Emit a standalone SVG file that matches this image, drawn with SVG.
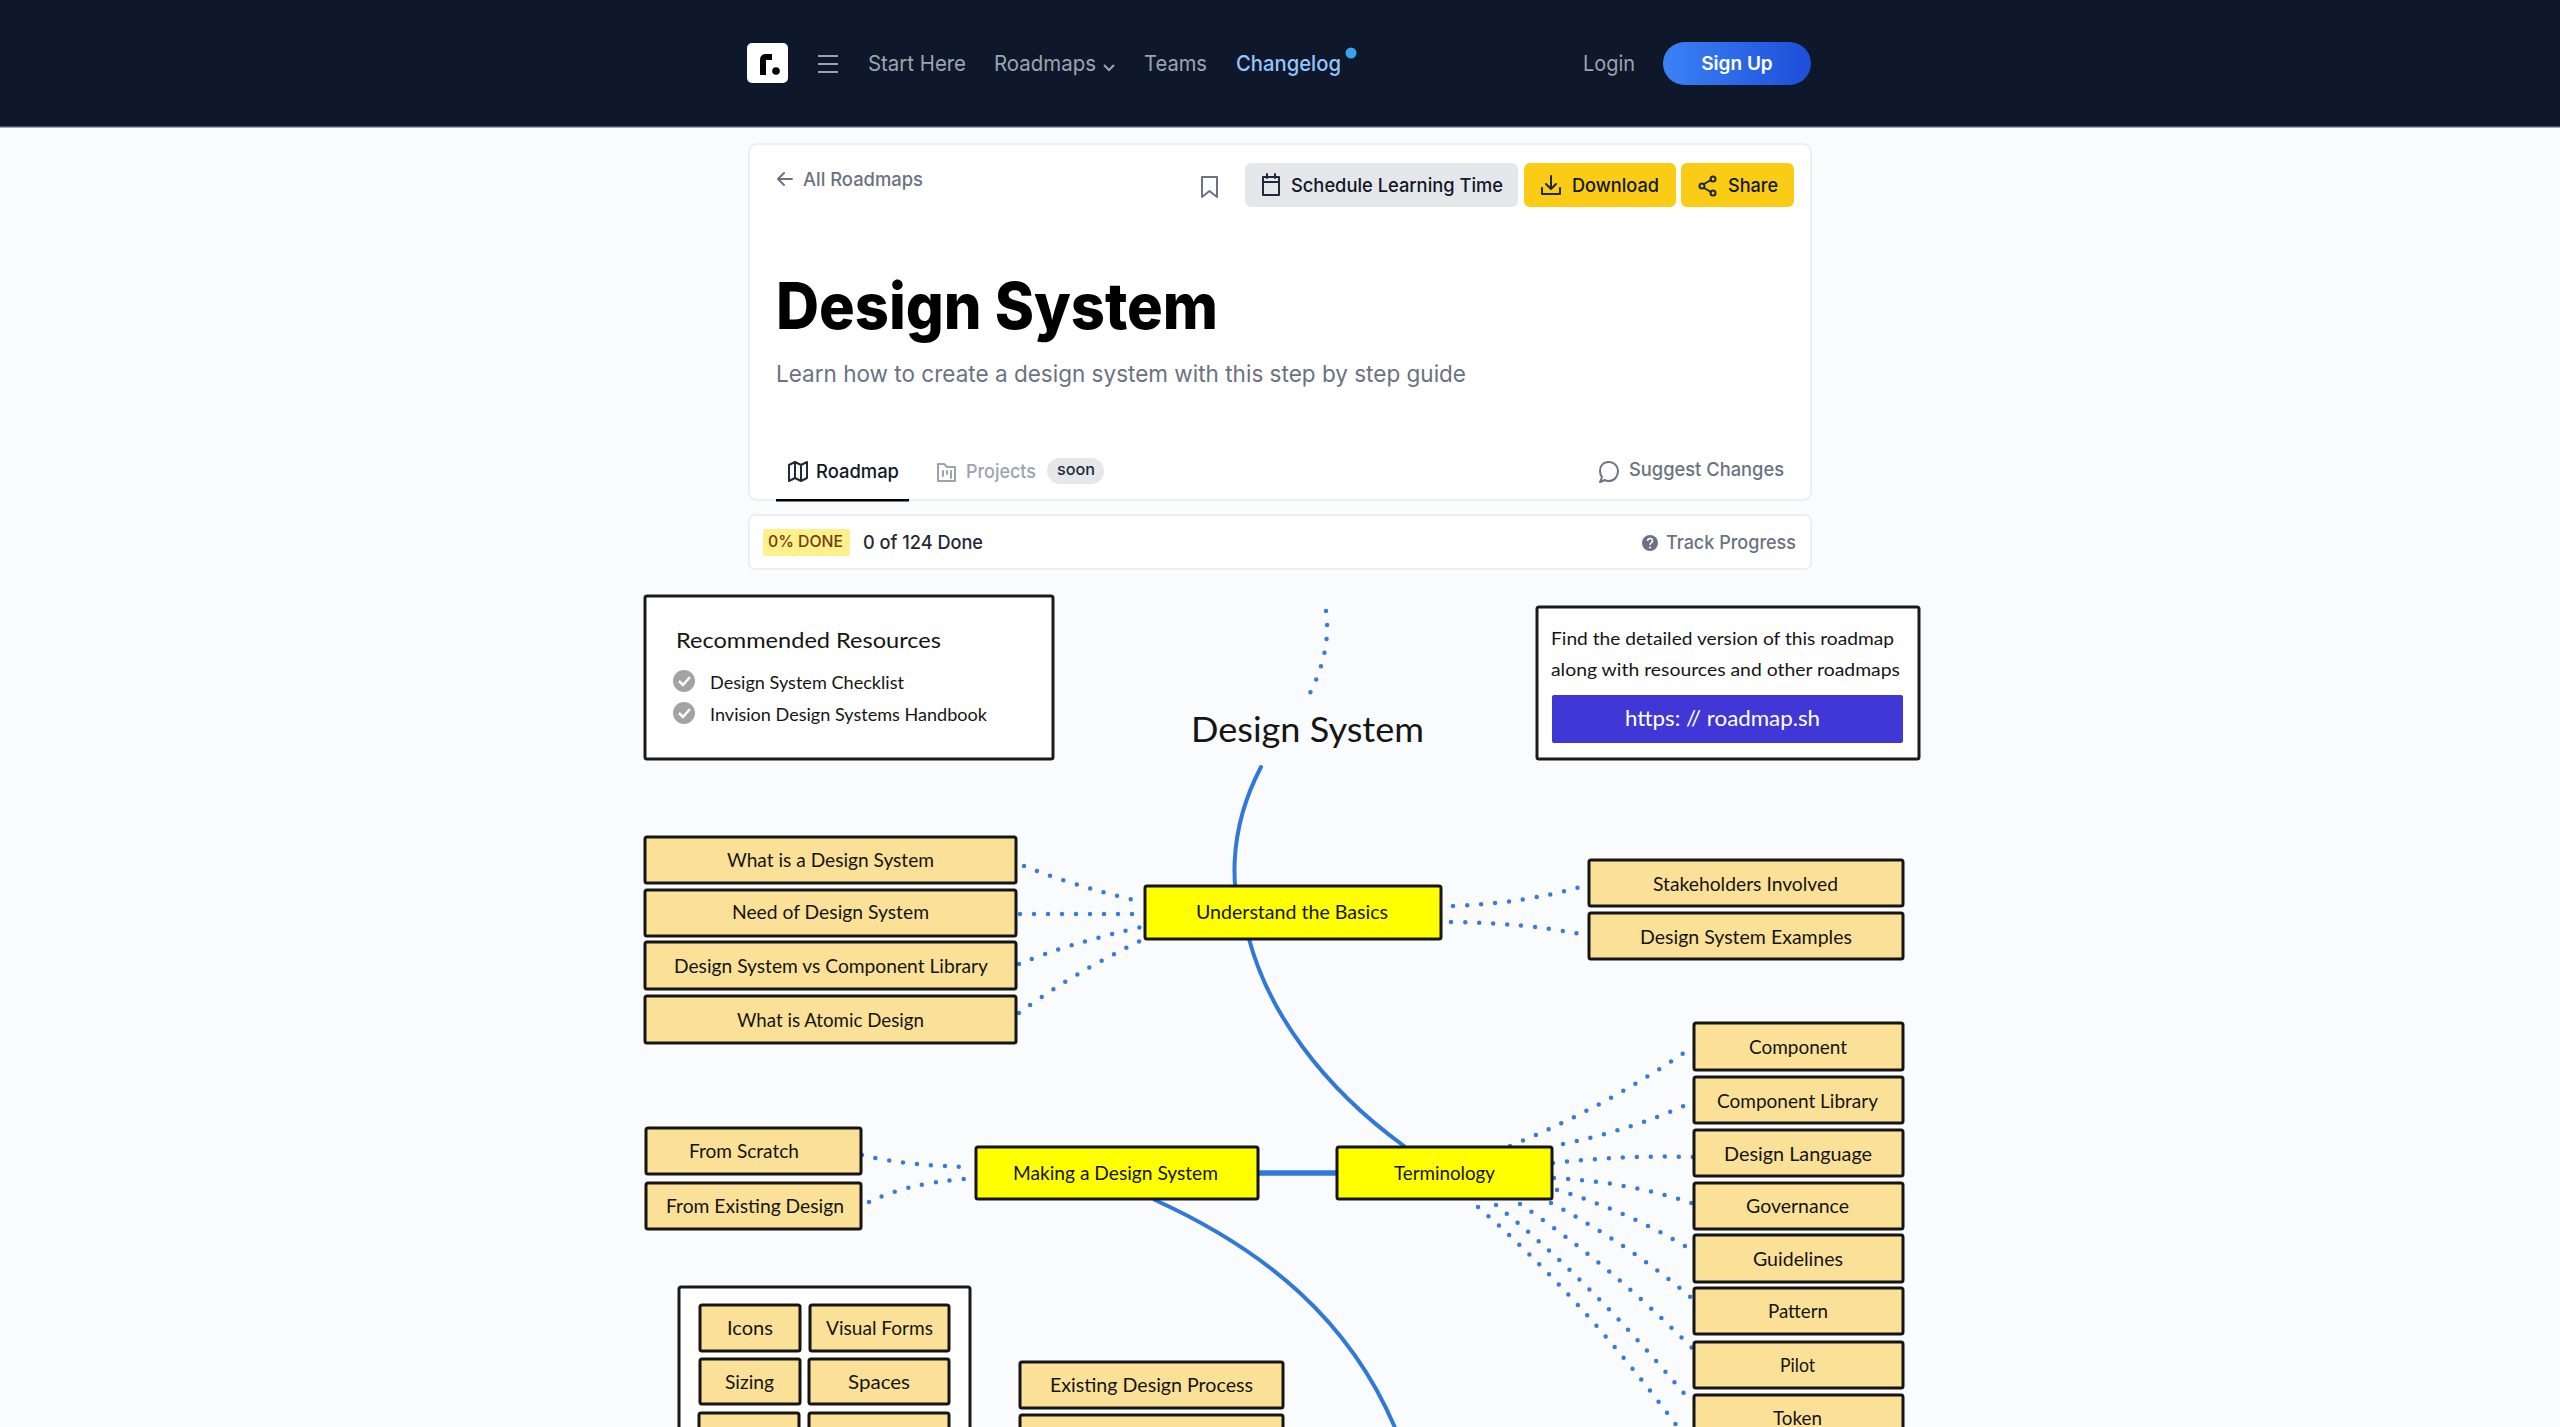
<svg xmlns="http://www.w3.org/2000/svg" width="2560" height="1427" viewBox="0 0 2560 1427">
<defs>
<linearGradient id="signup" x1="0" y1="0" x2="1" y2="0"><stop offset="0" stop-color="#3b82f6"/><stop offset="1" stop-color="#1d4ed8"/></linearGradient>
</defs>
<style>
text{font-family:"Inter","Liberation Sans",sans-serif}
.nav{font-size:22px;fill:#9ca3af}
.ui{font-size:19px;font-weight:500;fill:#111827}
.mut{font-size:19px;font-weight:500;fill:#6b7280}
.ic{fill:none;stroke:#1f2937;stroke-width:2;stroke-linecap:round;stroke-linejoin:round}
.icm{fill:none;stroke:#6b7280;stroke-width:2;stroke-linecap:round;stroke-linejoin:round}
.icl{fill:none;stroke:#9ca3af;stroke-width:2;stroke-linecap:round;stroke-linejoin:round}
.card{fill:#fff;stroke:#e8eaee;stroke-width:1.5}
.d{font-family:"Lato","Noto Sans",sans-serif;font-size:19px;fill:#151515;font-weight:400}
.n rect{fill:#fae197;stroke:#151515;stroke-width:3}
.m rect{fill:#ffff00;stroke:#151515;stroke-width:3}
.box{fill:#fff;stroke:#1a1a1a;stroke-width:3}
.solid{fill:none;stroke:#3079d8;stroke-width:4;stroke-linecap:round}
.dots{fill:none;stroke:#3a7bd5;stroke-width:4.5;stroke-linecap:round;stroke-dasharray:0 14}
</style>
<rect width="2560" height="1427" fill="#f9fbfd"/>
<g id="header">
<rect width="2560" height="127" fill="#0f172a"/>
<rect y="126" width="2560" height="1.500" fill="#475569"/>
<rect x="747" y="43" width="41" height="40" rx="5" fill="#fff"/>
<path d="M763 75V60Q763 57 766 57H772" fill="none" stroke="#000" stroke-width="6"/>
<circle cx="776" cy="71" r="3.800" fill="#000"/>
<path d="M818 56H838M818 64H838M818 72H838" stroke="#9ca3af" stroke-width="2.200" fill="none"/>
<text class="nav" x="868" y="71" textLength="98" lengthAdjust="spacingAndGlyphs">Start Here</text>
<text class="nav" x="994" y="71" textLength="102" lengthAdjust="spacingAndGlyphs">Roadmaps</text>
<path d="M1104 65L1109 70L1114 65" fill="none" stroke="#9ca3af" stroke-width="2"/>
<text class="nav" x="1144" y="71" textLength="63" lengthAdjust="spacingAndGlyphs">Teams</text>
<text class="nav" x="1236" y="71" textLength="105" lengthAdjust="spacingAndGlyphs" style="fill:#93c5fd;font-weight:500">Changelog</text>
<circle cx="1351" cy="53" r="5.500" fill="#38a3e8"/>
<text class="nav" x="1583" y="71" textLength="52" lengthAdjust="spacingAndGlyphs">Login</text>
<rect x="1663" y="42" width="148" height="43" rx="21.500" fill="url(#signup)"/>
<text x="1737" y="70" text-anchor="middle" font-size="19" font-weight="600" fill="#fff">Sign Up</text>
</g>
<g id="title-card">
<rect class="card" x="749" y="144" width="1062" height="356" rx="8"/>
<path class="icm" d="M792 179H778M784 173L778 179L784 185"/>
<text class="mut" x="803" y="186" textLength="120" lengthAdjust="spacingAndGlyphs">All Roadmaps</text>
<path class="icm" d="M1202 177H1217V197L1209.500 191L1202 197Z"/>
<rect x="1245" y="163" width="273" height="44" rx="6" fill="#e5e7eb"/>
<path class="ic" d="M1263 177H1279V195H1263ZM1263 182H1279M1267 174V178M1275 174V178"/>
<text class="ui" x="1291" y="192" textLength="212" lengthAdjust="spacingAndGlyphs">Schedule Learning Time</text>
<rect x="1524" y="163" width="152" height="44" rx="6" fill="#facc15"/>
<path class="ic" d="M1551 176V189M1546 184L1551 189L1556 184M1542 188V194H1560V188"/>
<text class="ui" x="1572" y="192" textLength="87" lengthAdjust="spacingAndGlyphs">Download</text>
<rect x="1681" y="163" width="113" height="44" rx="6" fill="#facc15"/>
<path class="ic" d="M1704 184L1711 180M1704 188L1711 192"/>
<circle class="ic" cx="1713" cy="179" r="2.500"/><circle class="ic" cx="1702" cy="186" r="2.500"/><circle class="ic" cx="1713" cy="193" r="2.500"/>
<text class="ui" x="1728" y="192" textLength="50" lengthAdjust="spacingAndGlyphs">Share</text>
<text x="776" y="329" font-size="64" font-weight="800" fill="#000" textLength="442" lengthAdjust="spacingAndGlyphs">Design System</text>
<text x="776" y="382" font-size="23.500" fill="#6b7280" textLength="690" lengthAdjust="spacingAndGlyphs">Learn how to create a design system with this step by step guide</text>
<path class="ic" d="M789 465L795 462L801 465L807 462V478L801 481L795 478L789 481ZM795 462V478M801 465V481"/>
<text class="ui" x="816" y="478" textLength="83" lengthAdjust="spacingAndGlyphs">Roadmap</text>
<rect x="776" y="499" width="133" height="2.500" fill="#000"/>
<path class="icl" d="M938 464H944L947 467H955V481H938ZM943 471V476M947 471V474M951 471V478"/>
<text class="ui" x="966" y="478" textLength="70" lengthAdjust="spacingAndGlyphs" style="fill:#9ca3af">Projects</text>
<rect x="1047" y="458" width="57" height="26" rx="13" fill="#e5e7eb"/>
<text x="1057" y="475" font-size="16" font-weight="500" fill="#1f2937" textLength="38" lengthAdjust="spacingAndGlyphs">soon</text>
<path class="icm" d="M1609 462C1603 462 1600 466 1600 471C1600 474 1601 476 1602 477L1600 482L1605 480C1606 481 1607 481 1609 481C1614 481 1618 477 1618 471C1618 466 1614 462 1609 462Z"/>
<text class="mut" x="1629" y="476" textLength="155" lengthAdjust="spacingAndGlyphs">Suggest Changes</text>
</g>
<g id="progress-card">
<rect class="card" x="749" y="515" width="1062" height="54" rx="6"/>
<rect x="763" y="529" width="87" height="27" rx="2" fill="#fef08a"/>
<text x="768" y="547" font-size="16" font-weight="500" fill="#713f12" textLength="75" lengthAdjust="spacingAndGlyphs">0% DONE</text>
<text x="863" y="549" font-size="19" font-weight="500" fill="#1f2937" textLength="120" lengthAdjust="spacingAndGlyphs">0 of 124 Done</text>
<circle cx="1650" cy="543" r="8" fill="#6b7280"/>
<path d="M1647.500 541C1648 537.500 1653 538 1652.500 541C1652 543 1650 543 1650 545" fill="none" stroke="#fff" stroke-width="1.500"/>
<circle cx="1650" cy="547.500" r="1" fill="#fff"/>
<text class="mut" x="1666" y="549" textLength="130" lengthAdjust="spacingAndGlyphs">Track Progress</text>
</g>
<g id="connectors">
<path class="solid" d="M1261 767C1228 830 1228 895 1249 939C1268 1010 1320 1085 1404 1146"/>
<path class="solid" d="M1258 1173H1337" style="stroke-width:5.500;stroke-linecap:butt"/>
<path class="solid" d="M1155 1200C1265 1250 1350 1320 1396 1430"/>
<path class="dots" d="M1326 611C1330 640 1323 668 1309 695"/>
<path class="dots" d="M1024 866Q1080 888 1143 902"/>
<path class="dots" d="M1020 914H1145"/>
<path class="dots" d="M1019 964Q1070 943 1142 927"/>
<path class="dots" d="M1019 1013Q1070 975 1142 940"/>
<path class="dots" d="M1453 906Q1525 903 1580 887"/>
<path class="dots" d="M1451 922Q1525 923 1580 934"/>
<path class="dots" d="M862 1155Q905 1166 973 1167"/>
<path class="dots" d="M869 1202Q905 1184 964 1179"/>
<path class="dots" d="M1510 1146Q1610 1105 1694 1046"/>
<path class="dots" d="M1563 1144Q1630 1130 1686 1105"/>
<path class="dots" d="M1553 1163Q1625 1155 1694 1157"/>
<path class="dots" d="M1554 1178Q1630 1182 1694 1204"/>
<path class="dots" d="M1557 1190Q1625 1210 1688 1248"/>
<path class="dots" d="M1551 1203Q1630 1245 1694 1300"/>
<path class="dots" d="M1520 1204Q1610 1265 1694 1350"/>
<path class="dots" d="M1496 1205Q1590 1280 1692 1403"/>
<path class="dots" d="M1478 1207Q1580 1295 1680 1430"/>
</g>
<g id="resources">
<rect class="box" x="645" y="596" width="408" height="163" rx="2"/>
<text class="d" x="676" y="648" style="font-size:22px" textLength="265" lengthAdjust="spacingAndGlyphs">Recommended Resources</text>
<circle cx="684" cy="681" r="11" fill="#a3a3a3"/><path d="M679 681L683 685L690 677" fill="none" stroke="#fff" stroke-width="2.500"/>
<text class="d" x="710" y="689" style="font-size:17px" textLength="194" lengthAdjust="spacingAndGlyphs">Design System Checklist</text>
<circle cx="684" cy="713" r="11" fill="#a3a3a3"/><path d="M679 713L683 717L690 709" fill="none" stroke="#fff" stroke-width="2.500"/>
<text class="d" x="710" y="721" style="font-size:17px" textLength="277" lengthAdjust="spacingAndGlyphs">Invision Design Systems Handbook</text>
</g>
<g id="detail-box">
<rect class="box" x="1537" y="607" width="382" height="152" rx="2"/>
<text class="d" x="1551" y="645" style="font-size:17.500px" textLength="343" lengthAdjust="spacingAndGlyphs">Find the detailed version of this roadmap</text>
<text class="d" x="1551" y="676" style="font-size:17.500px" textLength="349" lengthAdjust="spacingAndGlyphs">along with resources and other roadmaps</text>
<rect x="1552" y="695" width="351" height="48" rx="2" fill="#4136d6"/>
<text class="d" x="1625" y="726" style="font-size:22px;fill:#fff" textLength="195" lengthAdjust="spacingAndGlyphs">https: // roadmap.sh</text>
</g>
<text id="diagram-title" class="d" x="1191" y="742" style="font-size:35px" textLength="233" lengthAdjust="spacingAndGlyphs">Design System</text>
<g id="n-what-is" class="n"><rect x="645" y="837" width="371" height="46" rx="2"/><text class="d" x="727" y="867" textLength="207" lengthAdjust="spacingAndGlyphs">What is a Design System</text></g>
<g id="n-need" class="n"><rect x="645" y="890" width="371" height="46" rx="2"/><text class="d" x="732" y="919" textLength="197" lengthAdjust="spacingAndGlyphs">Need of Design System</text></g>
<g id="n-vs" class="n"><rect x="645" y="942" width="371" height="47" rx="2"/><text class="d" x="674" y="973" textLength="314" lengthAdjust="spacingAndGlyphs">Design System vs Component Library</text></g>
<g id="n-atomic" class="n"><rect x="645" y="996" width="371" height="47" rx="2"/><text class="d" x="737" y="1027" textLength="187" lengthAdjust="spacingAndGlyphs">What is Atomic Design</text></g>
<g id="m-basics" class="m"><rect x="1145" y="886" width="296" height="53" rx="2"/><text class="d" x="1196" y="919" textLength="192" lengthAdjust="spacingAndGlyphs">Understand the Basics</text></g>
<g id="n-stake" class="n"><rect x="1589" y="860" width="314" height="46" rx="2"/><text class="d" x="1653" y="891" textLength="185" lengthAdjust="spacingAndGlyphs">Stakeholders Involved</text></g>
<g id="n-examples" class="n"><rect x="1589" y="913" width="314" height="46" rx="2"/><text class="d" x="1640" y="944" textLength="212" lengthAdjust="spacingAndGlyphs">Design System Examples</text></g>
<g id="n-component" class="n"><rect x="1694" y="1023" width="209" height="47" rx="2"/><text class="d" x="1749" y="1054" textLength="98" lengthAdjust="spacingAndGlyphs">Component</text></g>
<g id="n-complib" class="n"><rect x="1694" y="1077" width="209" height="46" rx="2"/><text class="d" x="1717" y="1108" textLength="161" lengthAdjust="spacingAndGlyphs">Component Library</text></g>
<g id="n-language" class="n"><rect x="1694" y="1130" width="209" height="46" rx="2"/><text class="d" x="1724" y="1161" textLength="148" lengthAdjust="spacingAndGlyphs">Design Language</text></g>
<g id="n-governance" class="n"><rect x="1694" y="1183" width="209" height="46" rx="2"/><text class="d" x="1746" y="1213" textLength="103" lengthAdjust="spacingAndGlyphs">Governance</text></g>
<g id="n-guidelines" class="n"><rect x="1694" y="1235" width="209" height="47" rx="2"/><text class="d" x="1753" y="1266" textLength="90" lengthAdjust="spacingAndGlyphs">Guidelines</text></g>
<g id="n-pattern" class="n"><rect x="1694" y="1288" width="209" height="46" rx="2"/><text class="d" x="1768" y="1318" textLength="60" lengthAdjust="spacingAndGlyphs">Pattern</text></g>
<g id="n-pilot" class="n"><rect x="1694" y="1342" width="209" height="46" rx="2"/><text class="d" x="1780" y="1372" textLength="35" lengthAdjust="spacingAndGlyphs">Pilot</text></g>
<g id="n-token" class="n"><rect x="1694" y="1395" width="209" height="47" rx="2"/><text class="d" x="1773" y="1425" textLength="49" lengthAdjust="spacingAndGlyphs">Token</text></g>
<g id="m-terminology" class="m"><rect x="1337" y="1147" width="215" height="52" rx="2"/><text class="d" x="1394" y="1180" textLength="101" lengthAdjust="spacingAndGlyphs">Terminology</text></g>
<g id="m-making" class="m"><rect x="976" y="1147" width="282" height="52" rx="2"/><text class="d" x="1013" y="1180" textLength="205" lengthAdjust="spacingAndGlyphs">Making a Design System</text></g>
<g id="n-scratch" class="n"><rect x="646" y="1128" width="215" height="46" rx="2"/><text class="d" x="689" y="1158" textLength="110" lengthAdjust="spacingAndGlyphs">From Scratch</text></g>
<g id="n-existing" class="n"><rect x="646" y="1183" width="215" height="46" rx="2"/><text class="d" x="666" y="1213" textLength="178" lengthAdjust="spacingAndGlyphs">From Existing Design</text></g>
<rect id="visual-box" class="box" x="679" y="1287" width="291" height="180" rx="2"/>
<g id="n-icons" class="n"><rect x="700" y="1305" width="100" height="46" rx="2"/><text class="d" x="727" y="1335" textLength="46" lengthAdjust="spacingAndGlyphs">Icons</text></g>
<g id="n-forms" class="n"><rect x="810" y="1305" width="139" height="46" rx="2"/><text class="d" x="826" y="1335" textLength="107" lengthAdjust="spacingAndGlyphs">Visual Forms</text></g>
<g id="n-sizing" class="n"><rect x="700" y="1359" width="100" height="45" rx="2"/><text class="d" x="725" y="1389" textLength="49" lengthAdjust="spacingAndGlyphs">Sizing</text></g>
<g id="n-spaces" class="n"><rect x="809" y="1359" width="140" height="45" rx="2"/><text class="d" x="848" y="1389" textLength="62" lengthAdjust="spacingAndGlyphs">Spaces</text></g>
<g id="n-row3a" class="n"><rect x="699" y="1413" width="100" height="46" rx="2"/></g>
<g id="n-row3b" class="n"><rect x="809" y="1413" width="140" height="46" rx="2"/></g>
<g id="n-process" class="n"><rect x="1020" y="1362" width="263" height="46" rx="2"/><text class="d" x="1050" y="1392" textLength="203" lengthAdjust="spacingAndGlyphs">Existing Design Process</text></g>
<g id="n-below" class="n"><rect x="1020" y="1415" width="263" height="46" rx="2"/></g>
</svg>
